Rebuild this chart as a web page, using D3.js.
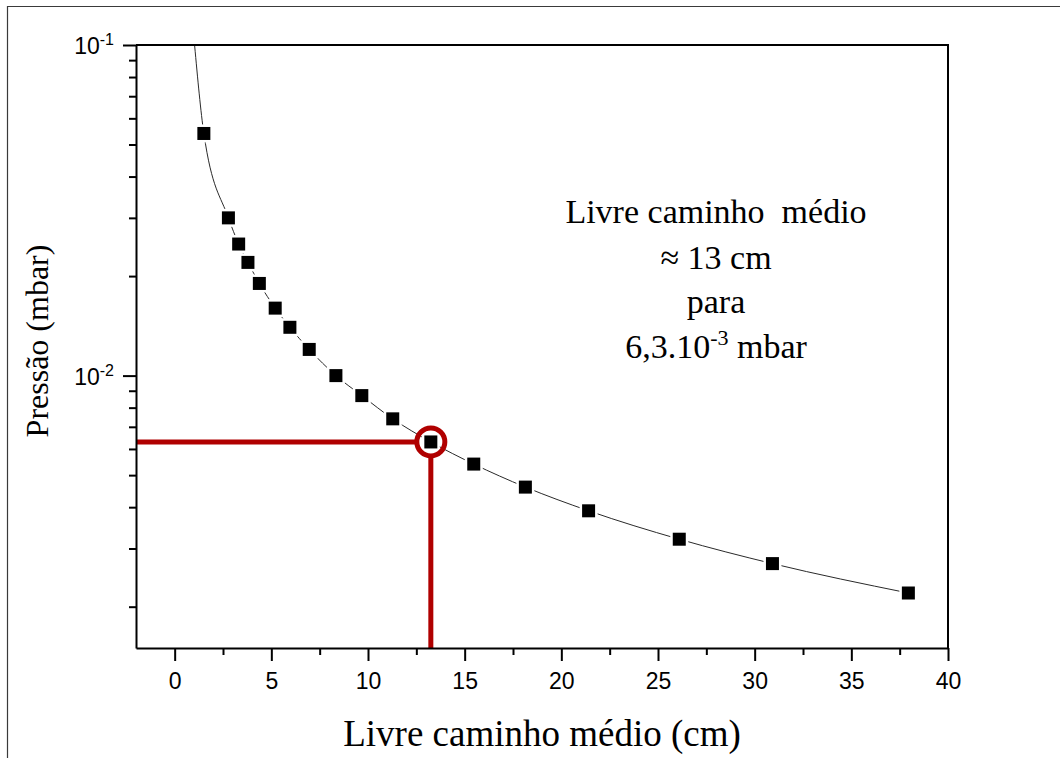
<!DOCTYPE html>
<html>
<head>
<meta charset="utf-8">
<script src="https://cdn.jsdelivr.net/npm/d3@7"></script>
<style>
  html, body { margin: 0; padding: 0; background: #ffffff; }
  svg { display: block; }
  .serif { font-family: "Liberation Serif", "Times New Roman", serif; }
  .sans { font-family: "Liberation Sans", Arial, sans-serif; }
</style>
</head>
<body>
<svg id="chart" width="1060" height="758"></svg>
<script>
// Mean free path (cm) against chamber pressure (mbar)
const lengthCm = [1.51, 2.78, 3.31, 3.79, 4.38, 5.20, 5.96, 6.96, 8.34, 9.68,
                  11.28, 13.25, 15.47, 18.14, 21.41, 26.10, 30.92, 37.95];
const pressureMbar = [0.054, 0.030, 0.025, 0.022, 0.019, 0.016, 0.014, 0.012, 0.010, 0.0087,
                      0.0074, 0.0063, 0.0054, 0.0046, 0.0039, 0.0032, 0.0027, 0.0022];

// Where the fitted curve enters through the top of the frame
const fitStartLength = [1.03];
const fitStartPressure = [0.1];

// Highlighted reading: ≈ 13 cm at 6,3.10^-3 mbar
const markLength = [13.25];
const markPressure = [0.0063];

// Axis ticks
const xDomain = [-2, 40];
const yDomain = [0.0015, 0.1];
const xMajorTicks = [0, 5, 10, 15, 20, 25, 30, 35, 40];
const xMinorTicks = [2.5, 7.5, 12.5, 17.5, 22.5, 27.5, 32.5, 37.5];
const yMajorTicks = [0.1, 0.01];
const yMajorExponents = ["-1", "-2"];
const yMinorTicks = [0.09, 0.08, 0.07, 0.06, 0.05, 0.04, 0.03, 0.02,
                     0.009, 0.008, 0.007, 0.006, 0.005, 0.004, 0.003, 0.002];

const noteLines = ["Livre caminho  médio", "≈ 13 cm", "para"];

const svg = d3.select("#chart");
const W = 1060, H = 758;
const plot = { left: 136, right: 948, top: 45, bottom: 648 };
const red = "#b00000";

// Outer frame (top and left edges)
svg.append("path")
  .attr("d", `M7.5,${H} V6.5 H${W}`)
  .attr("fill", "none")
  .attr("stroke", "#3a3a3a")
  .attr("stroke-width", 1.2);

const x = d3.scaleLinear().domain(xDomain).range([plot.left, plot.right]);
const y = d3.scaleLog().domain(yDomain).range([plot.bottom, plot.top]);

// Fitted curve, passing through the measured points
const curvePts = [[fitStartLength[0], fitStartPressure[0]]]
  .concat(lengthCm.map((d, i) => [d, pressureMbar[i]]));
const line = d3.line()
  .x(d => x(d[0]))
  .y(d => y(d[1]))
  .curve(d3.curveMonotoneX);
svg.append("path")
  .datum(curvePts)
  .attr("d", line)
  .attr("fill", "none")
  .attr("stroke", "#2a2a2a")
  .attr("stroke-width", 1);

// Red guide lines to the highlighted reading
const mx = x(markLength[0]), my = y(markPressure[0]);
const ringR = 14;
svg.append("line")
  .attr("x1", plot.left).attr("x2", mx - ringR)
  .attr("y1", my).attr("y2", my)
  .attr("stroke", red).attr("stroke-width", 5);
svg.append("line")
  .attr("x1", mx).attr("x2", mx)
  .attr("y1", my + ringR).attr("y2", plot.bottom)
  .attr("stroke", red).attr("stroke-width", 5);

// Measured points (white halo breaks the curve around each marker)
const sz = 13;
svg.append("g").selectAll("rect")
  .data(lengthCm.map((d, i) => [d, pressureMbar[i]]))
  .join("rect")
  .attr("x", d => x(d[0]) - sz / 2)
  .attr("y", d => y(d[1]) - sz / 2)
  .attr("width", sz).attr("height", sz)
  .attr("fill", "#000")
  .attr("stroke", "#fff")
  .attr("stroke-width", 5)
  .attr("paint-order", "stroke");

// Ring around the highlighted point
svg.append("circle")
  .attr("cx", mx).attr("cy", my).attr("r", ringR)
  .attr("fill", "none")
  .attr("stroke", red)
  .attr("stroke-width", 5);

// Frame top and right
svg.append("path")
  .attr("d", `M${plot.left},${plot.top} H${plot.right} V${plot.bottom}`)
  .attr("fill", "none")
  .attr("stroke", "#000")
  .attr("stroke-width", 2);

// X axis
const gx = svg.append("g")
  .attr("transform", `translate(0,${plot.bottom})`)
  .call(d3.axisBottom(x).tickValues(xMajorTicks).tickSize(13).tickSizeOuter(0).tickPadding(12));
gx.select(".domain").attr("stroke-width", 2);
gx.selectAll(".tick line").attr("stroke-width", 2);
gx.selectAll(".tick text")
  .attr("class", "sans")
  .attr("font-size", 23)
  .attr("fill", "#000");
svg.append("g")
  .attr("transform", `translate(0,${plot.bottom})`)
  .call(d3.axisBottom(x).tickValues(xMinorTicks).tickSize(7).tickSizeOuter(0).tickFormat(""))
  .call(g => g.select(".domain").remove())
  .selectAll(".tick line").attr("stroke-width", 2);

// Y axis (log)
const gy = svg.append("g")
  .attr("transform", `translate(${plot.left},0)`)
  .call(d3.axisLeft(y).tickValues(yMajorTicks).tickSize(13).tickSizeOuter(0).tickFormat(""));
gy.select(".domain").attr("stroke-width", 2);
gy.selectAll(".tick line").attr("stroke-width", 2);
svg.append("g")
  .attr("transform", `translate(${plot.left},0)`)
  .call(d3.axisLeft(y).tickValues(yMinorTicks).tickSize(7).tickSizeOuter(0).tickFormat(""))
  .call(g => g.select(".domain").remove())
  .selectAll(".tick line").attr("stroke-width", 2);

// Y tick labels as powers of ten
yMajorTicks.forEach((v, i) => {
  const t = svg.append("text")
    .attr("class", "sans")
    .attr("x", 114)
    .attr("y", y(v) + 9)
    .attr("text-anchor", "end")
    .attr("font-size", 23)
    .attr("fill", "#000");
  t.append("tspan").text("10");
  t.append("tspan")
    .attr("font-size", 16)
    .attr("dy", -9)
    .text(yMajorExponents[i]);
});

// Axis titles
svg.append("text")
  .attr("class", "serif")
  .attr("x", 542)
  .attr("y", 746)
  .attr("text-anchor", "middle")
  .attr("font-size", 37)
  .attr("fill", "#000")
  .text("Livre caminho médio (cm)");

svg.append("text")
  .attr("class", "serif")
  .attr("transform", `translate(48,341) rotate(-90)`)
  .attr("text-anchor", "middle")
  .attr("font-size", 32)
  .attr("fill", "#000")
  .text("Pressão (mbar)");

// Annotation
const noteX = 716;
const noteY = [223, 269, 313];
noteLines.forEach((s, i) => {
  svg.append("text")
    .attr("class", "serif")
    .attr("x", noteX).attr("y", noteY[i])
    .attr("text-anchor", "middle")
    .attr("font-size", 34)
    .attr("fill", "#000")
    .style("white-space", "pre")
    .text(s);
});
const last = svg.append("text")
  .attr("class", "serif")
  .attr("x", noteX).attr("y", 358)
  .attr("text-anchor", "middle")
  .attr("font-size", 34)
  .attr("fill", "#000");
last.append("tspan").text("6,3.10");
last.append("tspan").attr("font-size", 22).attr("dy", -13).text("-3");
last.append("tspan").attr("dy", 13).text(" mbar");
</script>
</body>
</html>
